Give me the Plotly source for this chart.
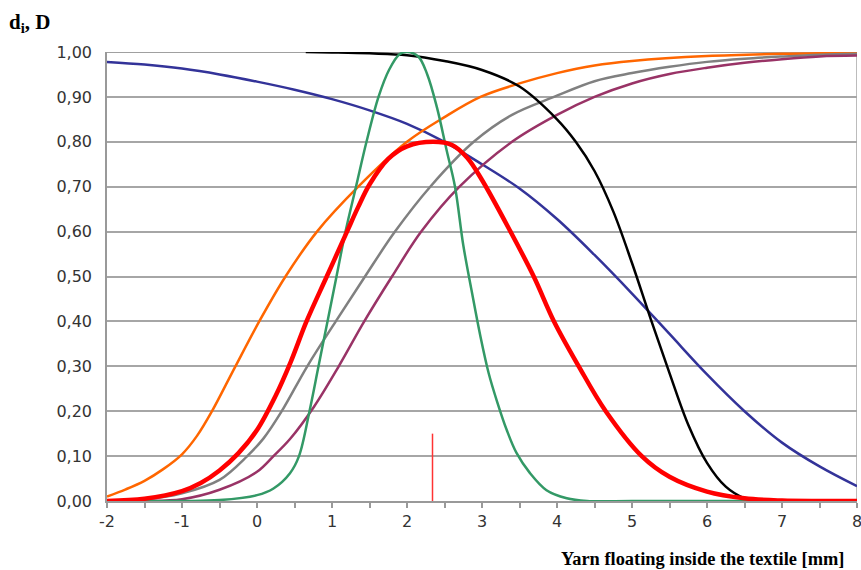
import plotly.graph_objects as go

# ---- data ----
blue_x = [-2, -1.5, -1, -0.5, 0, 0.5, 1, 1.5, 2, 2.5, 3, 3.5, 4, 4.5, 5, 5.5, 6, 6.5, 7, 7.5, 8]
blue_y = [0.978, 0.972, 0.963, 0.95, 0.934, 0.916, 0.895, 0.87, 0.84, 0.80, 0.75, 0.696, 0.628,
          0.548, 0.462, 0.372, 0.282, 0.20, 0.13, 0.077, 0.033]

orange_x = [-2, -1.75, -1.5, -1.25, -1.0, -0.8, -0.6, -0.3, 0.03, 0.38, 0.8, 1.35, 2.0, 2.5, 2.98,
            3.5, 4, 4.5, 5, 6, 7, 8]
orange_y = [0.01, 0.026, 0.045, 0.071, 0.104, 0.145, 0.2, 0.296, 0.4, 0.5, 0.6, 0.7, 0.8, 0.855,
            0.9, 0.93, 0.953, 0.97, 0.98, 0.991, 0.996, 0.998]

gray_x = [-2, -1.5, -1, -0.5, -0.13, 0.09, 0.33, 0.67, 1.05, 1.44, 1.84, 2.31, 2.89, 3.4, 3.96,
          4.5, 5, 5.5, 6, 6.5, 7, 7.5, 8]
gray_y = [0, 0.003, 0.017, 0.047, 0.1, 0.14, 0.2, 0.3, 0.4, 0.5, 0.6, 0.7, 0.8, 0.86, 0.9, 0.935,
          0.953, 0.967, 0.978, 0.985, 0.99, 0.994, 0.996]

purple_x = [-2, -1.5, -1, -0.5, 0, 0.22, 0.44, 0.76, 1.09, 1.43, 1.8, 2.19, 2.7, 3.4, 4, 4.5, 5,
            5.5, 6, 6.5, 7, 7.5, 8]
purple_y = [0, 0, 0.004, 0.025, 0.065, 0.1, 0.138, 0.21, 0.3, 0.4, 0.5, 0.6, 0.7, 0.8, 0.86, 0.9,
            0.93, 0.951, 0.965, 0.976, 0.984, 0.99, 0.992]

black_x = [0.65, 1, 1.5, 2, 2.5, 3, 3.5, 4, 4.25, 4.5, 4.75, 5, 5.25, 5.5, 5.75, 6, 6.25, 6.5, 6.65]
black_y = [1.0, 0.999, 0.997, 0.993, 0.98, 0.96, 0.923, 0.85, 0.80, 0.735, 0.645, 0.53, 0.405,
           0.285, 0.17, 0.085, 0.032, 0.006, 0.0]

green_x = [-2, -1, -0.5, 0, 0.22, 0.44, 0.56, 0.70, 0.82, 0.94, 1.06, 1.18, 1.32, 1.46, 1.62,
           1.76, 1.9, 2.0, 2.15, 2.27, 2.4, 2.53, 2.64, 2.75, 2.86, 2.98, 3.09, 3.2, 3.33, 3.46,
           3.64, 3.86, 4.13, 4.4, 5, 6, 7, 8]
green_y = [0, 0, 0.002, 0.013, 0.028, 0.062, 0.1, 0.2, 0.3, 0.4, 0.5, 0.6, 0.7, 0.8, 0.9, 0.96,
           0.995, 1.0, 0.99, 0.95, 0.876, 0.78, 0.70, 0.57, 0.47, 0.366, 0.284, 0.222, 0.158,
           0.107, 0.062, 0.024, 0.006, 0, 0, 0, 0, 0]

red_x = [-2, -1.5, -1, -0.75, -0.5, -0.25, 0, 0.25, 0.45, 0.66, 0.93, 1.2, 1.35, 1.5, 1.75, 2.0,
         2.35, 2.6, 2.8, 3.0, 3.38, 3.69, 3.96, 4.29, 4.65, 5.13, 5.5, 6, 6.5, 7, 7.5, 8]
red_y = [0, 0.005, 0.022, 0.04, 0.068, 0.106, 0.158, 0.235, 0.31, 0.4, 0.5, 0.6, 0.655, 0.705,
         0.762, 0.79, 0.80, 0.793, 0.765, 0.715, 0.6, 0.5, 0.4, 0.3, 0.2, 0.1, 0.054, 0.021, 0.006,
         0.001, 0, 0]

marker_x = [2.34, 2.34]
marker_y = [0, 0.15]

x_ticks = [-2, -1, 0, 1, 2, 3, 4, 5, 6, 7, 8]
x_tick_text = ["-2", "-1", "0", "1", "2", "3", "4", "5", "6", "7", "8"]
y_ticks = [0, 0.1, 0.2, 0.3, 0.4, 0.5, 0.6, 0.7, 0.8, 0.9, 1.0]

fig = go.Figure()

def add(x, y, color, width):
    fig.add_trace(go.Scatter(x=x, y=y, mode="lines",
                             line=dict(color=color, width=width, shape="spline", smoothing=1),
                             hoverinfo="skip", showlegend=False))

add(blue_x, blue_y, "#333399", 2.5)
add(orange_x, orange_y, "#FF6600", 2.5)
add(gray_x, gray_y, "#808080", 2.5)
add(purple_x, purple_y, "#993366", 2.5)
add(black_x, black_y, "#000000", 2.5)
add(green_x, green_y, "#339966", 2.5)
add(red_x, red_y, "#FF0000", 4.5)
fig.add_trace(go.Scatter(x=marker_x, y=marker_y, mode="lines",
                         line=dict(color="#FF3333", width=1.5),
                         hoverinfo="skip", showlegend=False))

fig.update_layout(
    width=861, height=570,
    margin=dict(l=107, r=4, t=52, b=69),
    paper_bgcolor="white", plot_bgcolor="white",
    separators=",.",
    font=dict(family="DejaVu Sans", size=16, color="#333333"),
    xaxis=dict(range=[-2, 8], tickvals=x_ticks, ticktext=x_tick_text, ticks="outside", ticklen=5,
               tickcolor="#999999", tickwidth=1.5, automargin=False, ticklabeloverflow="allow",
               minor=dict(dtick=0.5, ticks="outside", ticklen=5, tickcolor="#999999", tickwidth=1.5),
               showgrid=False, zeroline=False, showline=True, linecolor="#999999", linewidth=1.5,
               tickfont=dict(size=16, color="#333333")),
    yaxis=dict(range=[0, 1.0], tickvals=y_ticks, tickformat=".2f", ticks="",
               ticklabelstandoff=10, automargin=False,
               showgrid=True, gridcolor="#A6A6A6", gridwidth=1.5, zeroline=False,
               showline=True, linecolor="#999999", linewidth=1.5,
               tickfont=dict(size=16, color="#333333")),
    shapes=[dict(type="line", xref="x", yref="paper", x0=8, x1=8, y0=0, y1=1,
                 line=dict(color="#A6A6A6", width=1.5), layer="below"),
            dict(type="line", xref="paper", yref="y", x0=0, x1=1, y0=1, y1=1,
                 line=dict(color="#808080", width=1.5), layer="below")],
    annotations=[
        dict(text="<b>d<sub>i</sub>, D</b>", xref="paper", yref="paper", x=-107/750, y=1 + 52/449,
             xanchor="left", yanchor="top", xshift=7, yshift=-8, showarrow=False,
             font=dict(family="Liberation Serif", size=21, color="#000000")),
        dict(text="<b>Yarn floating inside the textile [mm]</b>", xref="paper", yref="paper",
             x=1, y=0, xanchor="right", yanchor="top", xshift=-11, yshift=-46, showarrow=False,
             font=dict(family="Liberation Serif", size=18.4, color="#000000")),
    ],
)

fig.write_html("out.html", config={"displayModeBar": False},
               post_script="document.body.style.margin='0';document.body.style.overflow='hidden';")
